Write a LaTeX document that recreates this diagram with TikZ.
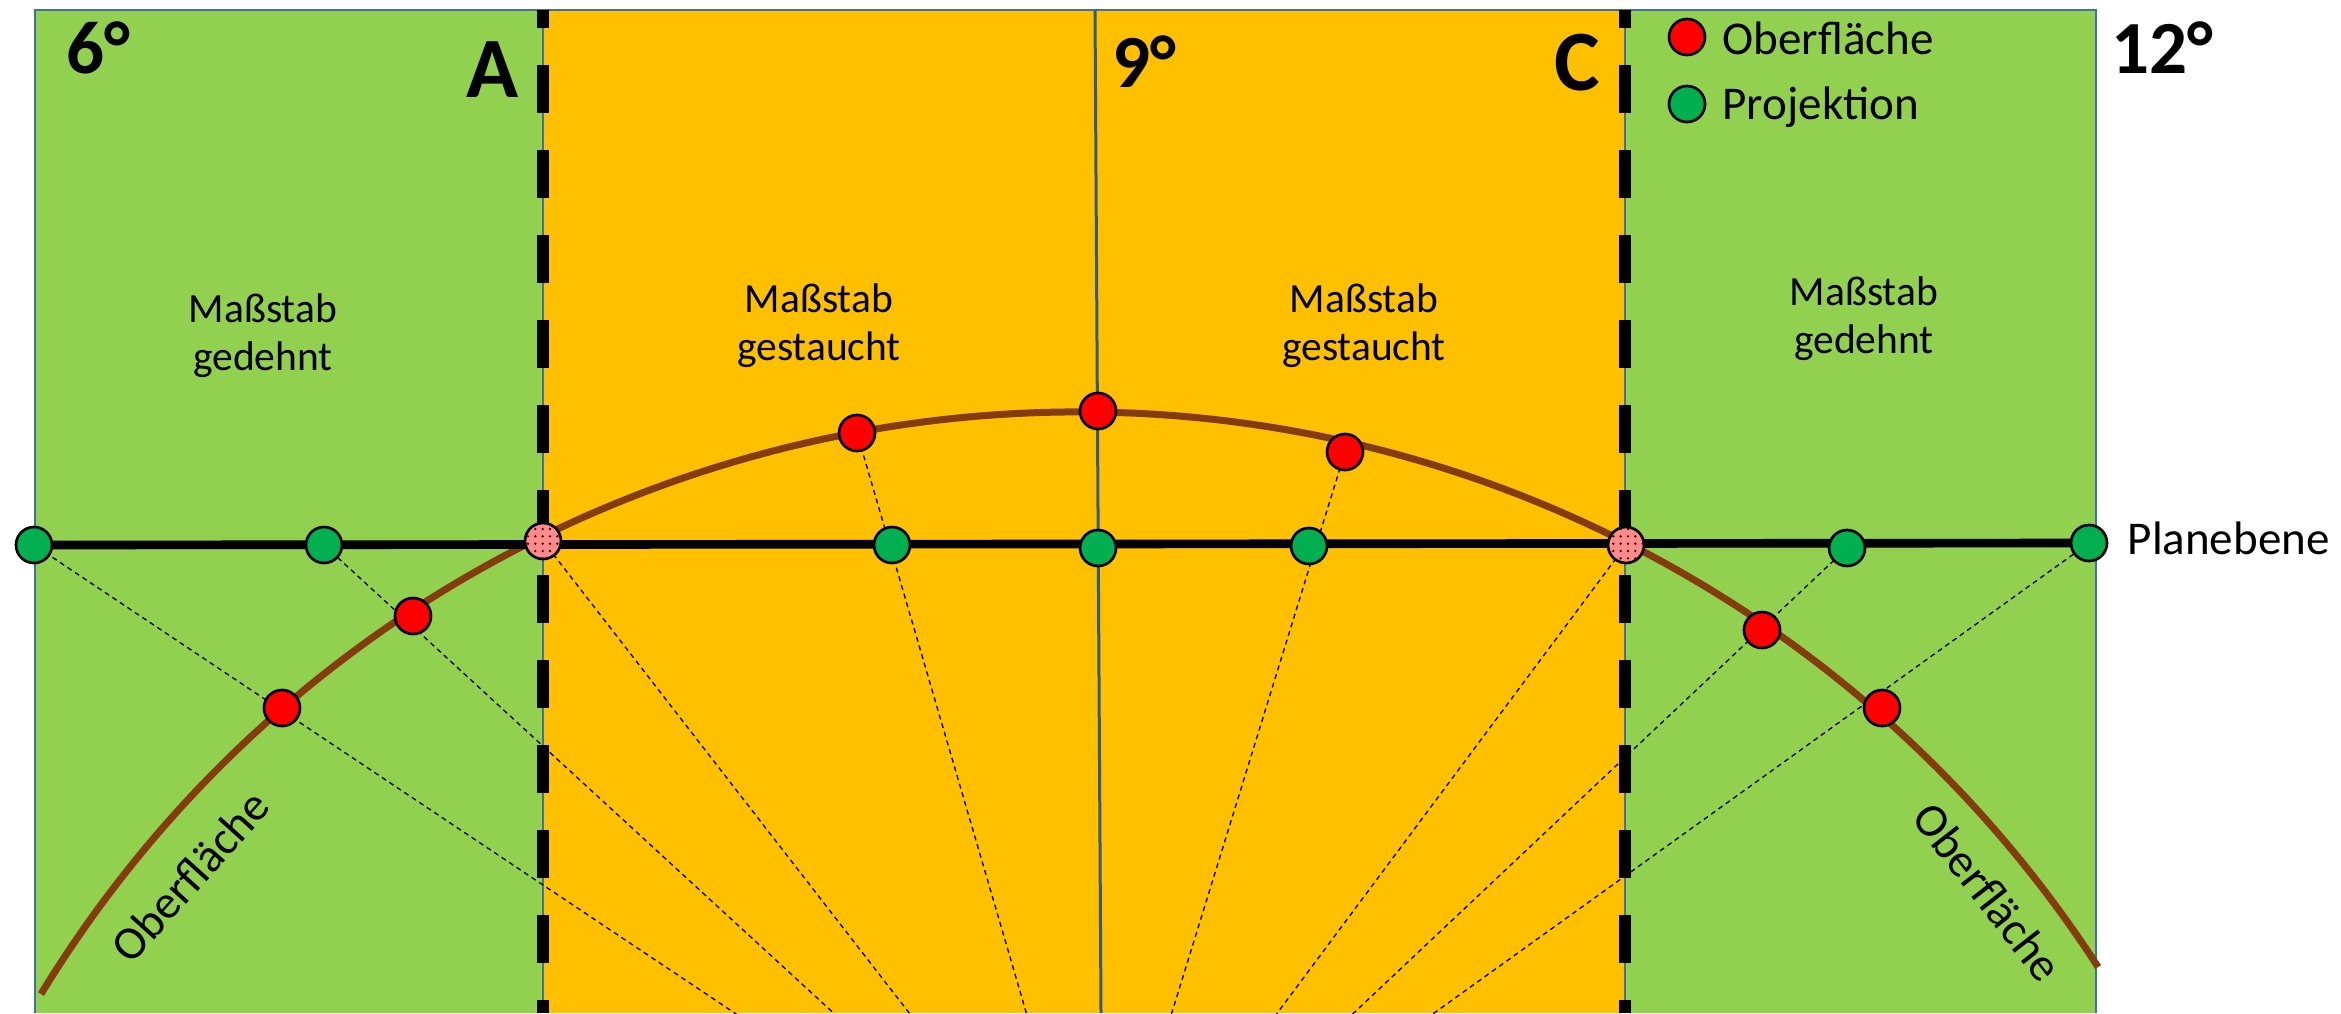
\documentclass[tikz,border=0pt]{standalone}
\usepackage{fontspec}
\setmainfont{Carlito}
\usetikzlibrary{patterns.meta}
\definecolor{grass}{HTML}{92D050}
\definecolor{amber}{HTML}{FFC000}
\definecolor{leaf}{HTML}{00B050}
\definecolor{soil}{HTML}{843C0C}
\definecolor{frame}{HTML}{41719C}
\pgfdeclarelayer{back}
\pgfsetlayers{back,main}

\begin{document}
\begin{tikzpicture}[x=0.3pt,y=-0.3pt,
  dot/.style={circle,draw=black,line width=0.8pt,minimum size=10.8pt,inner sep=0pt},
  surf/.style={dot,fill=red},
  proj/.style={dot,fill=leaf},
  both/.style={dot,fill=red!45,postaction={pattern color=red!35!black,pattern={Dots[distance=2.2pt,radius=0.4pt]}}},
  ray/.style={line width=0.4pt,dash pattern=on 1.5pt off 1.2pt},
  cut/.style={line width=3.6pt,dash pattern=on 14.4pt off 11.1pt,dash phase=9pt},
  deg/.style={font=\fontsize{22.5}{27}\selectfont\bfseries,inner sep=0pt},
  cutlbl/.style={font=\fontsize{25.8}{30}\selectfont\bfseries,inner sep=0pt},
  note/.style={font=\fontsize{14.1}{17}\selectfont,inner sep=0pt},
  band/.style={font=\fontsize{12.45}{14.4}\selectfont,align=center,anchor=north,inner sep=0pt}]
  \useasboundingbox (0,0) rectangle (2341,1013);
  \coordinate (eye) at (1097,1255);
  \coordinate (globe) at (1078,1627);
  % projection points on the plane
  \foreach \n/\x/\y in {g1/34/545,g2/324/545,g3/892/545,g4/1098/548,g5/1309/546,g6/1847/548,g7/2089/543}
    \node[proj] (\n) at (\x,\y) {};
  % points on the surface
  \foreach \n/\x/\y in {r1/282/708,r2/413/616,r3/857/433,r4/1098/411,r5/1345/452,r6/1762/630,r7/1882/708}
    \node[surf] (\n) at (\x,\y) {};
  \node[both] (pa) at (543,541) {};
  \node[both] (pc) at (1626,545) {};
  \begin{pgfonlayer}{back}
    \fill[grass] (35,10) rectangle (543,1013);
    \fill[amber] (543,10) rectangle (1625,1013);
    \fill[grass] (1625,10) rectangle (2096,1013);
    \draw[frame,line width=0.7pt] (35,1013) -- (35,10) -- (2096,10) -- (2096,1013);
    \draw[frame,line width=0.5pt] (543,10) -- (543,1013) (1625,10) -- (1625,1013);
    \draw[frame!80!black,line width=0.9pt] (1095,10) -- (1101,1013);
    \begin{scope}
      \clip (0,0) rectangle (2341,1013);
      \foreach \t in {g1,g2,pa,r3,r5,pc,g6,g7} \draw[ray] (eye) -- (\t.center);
    \end{scope}
    \draw[cut] (543,10) -- (543,1013);
    \draw[cut] (1625,10) -- (1625,1013);
    \draw[soil,line width=2.1pt] (globe) ++(211.4:1215) arc[start angle=211.4,end angle=327.1,radius=1215];
    \draw[line width=2.6pt] (g1.center) -- (g7.center);
  \end{pgfonlayer}
  % labels
  \node[deg,anchor=base west] (six) at (66,73) {6°};
  \node[deg,anchor=base west] (nine) at (1112,87) {9°};
  \node[deg,anchor=base west] (twelve) at (2111,73) {12°};
  \node[cutlbl,anchor=base east] (la) at (519,97) {A};
  \node[cutlbl,anchor=base east] (lc) at (1601,90) {C};
  \node[band] (s1) at (263,293) {Maßstab\\gedehnt};
  \node[band] (s2) at (819,283) {Maßstab\\gestaucht};
  \node[band] (s3) at (1364,283) {Maßstab\\gestaucht};
  \node[band] (s4) at (1864,276) {Maßstab\\gedehnt};
  \node[note,anchor=base west] (plane) at (2127,554) {Planebene};
  \node[note,rotate=48] (surfl) at (190,876) {Oberfläche};
  \node[note,rotate=-52] (surfr) at (1988,892) {Oberfläche};
  % legend
  \node[surf] (keyr) at (1687,37) {};
  \node[proj] (keyg) at (1687,104) {};
  \node[note,anchor=base west] (keyrt) at (1722,54) {Oberfläche};
  \node[note,anchor=base west] (keygt) at (1722,119) {Projektion};
\end{tikzpicture}
\end{document}
